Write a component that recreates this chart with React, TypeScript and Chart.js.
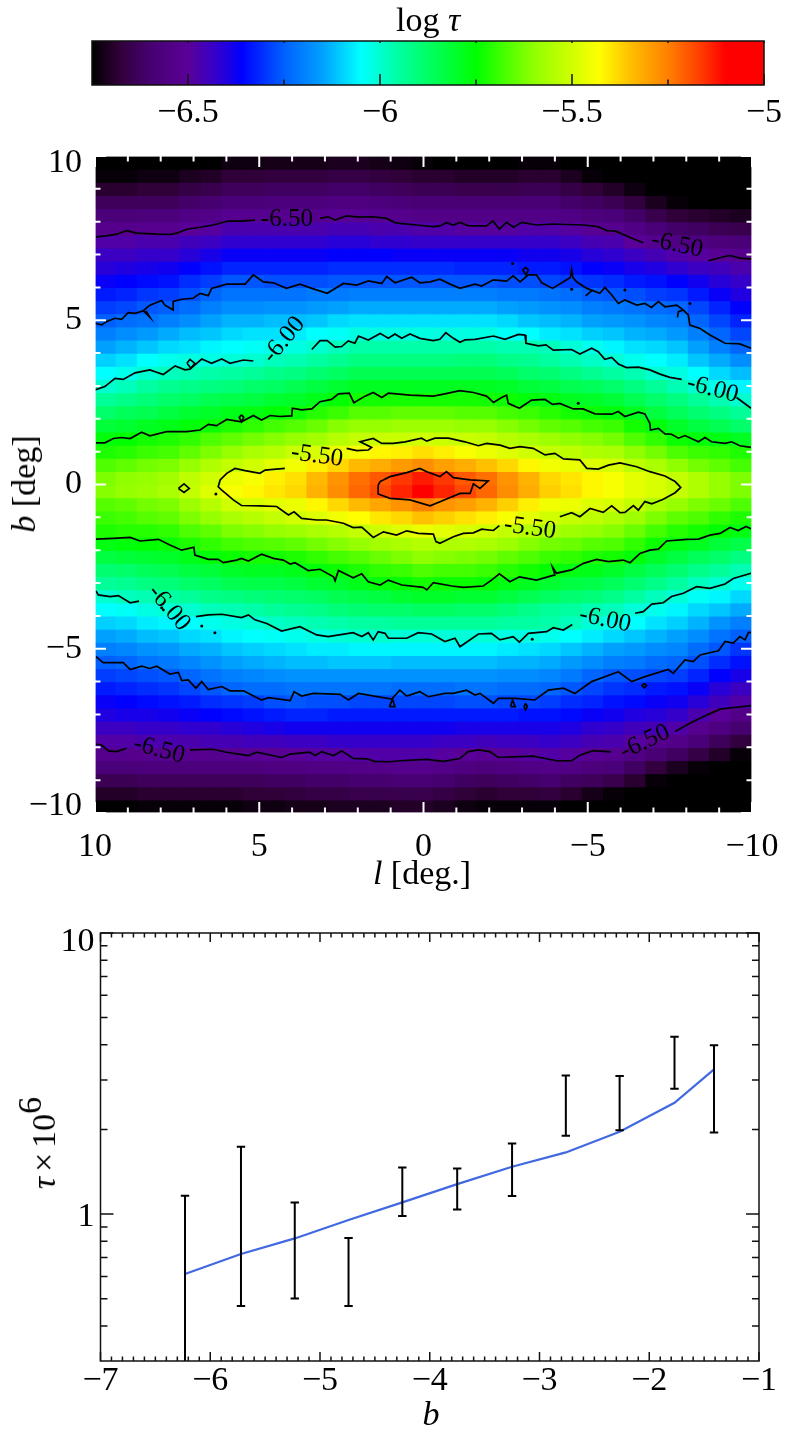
import React, { useEffect, useRef } from "react";
import { Chart, registerables } from "chart.js";

Chart.register(...registerables);

const FONT = '"Liberation Serif"';

// colour table (log tau -> colour)
const paletteValues = [-6.75, -6.68, -6.6, -6.5, -6.42, -6.36, -6.25, -6.15, -6.05, -5.95, -5.75, -5.6, -5.5, -5.43, -5.35, -5.25, -5.17, -5.1, -5];
const paletteColors = [
  [0, 0, 0], [48, 0, 56], [70, 0, 112], [90, 0, 152], [48, 0, 208], [0, 0, 255], [0, 96, 255], [0, 160, 255], [0, 255, 255],
  [0, 255, 160], [0, 255, 0], [144, 255, 0], [208, 255, 0], [255, 255, 0], [255, 192, 0], [255, 128, 0], [255, 64, 0], [255, 0, 0], [255, 0, 0],
];

// colour bar
const barRange = [-6.75, -5];
const barMajor = [-6.5, -6, -5.5, -5];
const barMinor = [-6.25, -5.75, -5.25];

// map axes
const lColumns = [9.68, 9.03, 8.39, 7.74, 7.1, 6.45, 5.81, 5.16, 4.52, 3.87, 3.23, 2.58, 1.94, 1.29, 0.65, 0, -0.65, -1.29, -1.94, -2.58, -3.23, -3.87, -4.52, -5.16, -5.81, -6.45, -7.1, -7.74, -8.39, -9.03, -9.68];
const bRows = [9.8, 9.4, 9, 8.6, 8.2, 7.8, 7.4, 7, 6.6, 6.2, 5.8, 5.4, 5, 4.6, 4.2, 3.8, 3.4, 3, 2.6, 2.2, 1.8, 1.4, 1, 0.6, 0.2, -0.2, -0.6, -1, -1.4, -1.8, -2.2, -2.6, -3, -3.4, -3.8, -4.2, -4.6, -5, -5.4, -5.8, -6.2, -6.6, -7, -7.4, -7.8, -8.2, -8.6, -9, -9.4, -9.8];
const mapMajor = [10, 5, 0, -5, -10];
const mapMinor = [9, 8, 7, 6, 4, 3, 2, 1, -1, -2, -3, -4, -6, -7, -8, -9];

// -log10(tau) x 100 per cell, one row per b value, one column per l value
const tauGrid = [
  [679,679,678,678,676,675,673,673,672,672,672,671,671,672,673,674,675,675,675,675,674,674,676,678,680,680,680,680,680,680,680],
  [674,674,673,673,671,670,668,668,667,667,667,666,666,667,668,669,669,670,670,670,669,669,671,674,676,677,679,680,680,680,680],
  [669,669,668,668,666,665,663,663,662,662,662,661,661,662,663,664,664,665,665,665,664,664,666,668,670,673,677,680,680,680,680],
  [663,663,663,663,661,660,658,658,657,657,657,656,656,657,658,659,659,659,659,659,659,659,661,662,664,667,671,674,675,677,678],
  [658,658,657,657,655,654,652,652,652,652,652,651,651,652,653,654,654,654,654,654,654,654,655,657,658,661,665,668,669,670,671],
  [653,653,652,652,650,649,647,647,647,647,647,646,646,647,647,648,648,649,649,649,648,648,649,651,652,655,658,661,662,664,665],
  [648,648,647,647,645,644,642,642,642,642,642,641,641,642,642,643,643,643,643,643,643,643,644,646,647,650,652,655,656,657,658],
  [644,644,643,643,641,639,637,637,637,637,637,636,636,636,637,637,637,637,637,637,638,638,639,641,642,644,646,648,649,651,652],
  [641,640,639,638,636,634,632,632,632,632,632,631,631,631,631,631,631,632,632,632,633,633,634,636,637,639,640,642,644,645,647],
  [637,636,635,634,631,629,626,626,627,627,627,626,626,626,626,626,626,626,626,627,627,628,629,630,631,633,634,636,638,641,643],
  [633,632,630,629,627,624,622,622,622,622,621,621,620,620,620,620,620,620,620,621,621,622,623,625,626,627,629,630,633,637,640],
  [629,628,626,625,623,620,618,618,617,617,616,615,614,614,614,614,614,614,614,615,616,617,618,620,621,622,623,624,628,632,636],
  [625,623,622,620,618,615,613,613,612,612,611,609,608,608,608,608,608,608,608,609,611,612,613,615,616,617,619,620,624,628,632],
  [620,618,616,614,612,611,609,608,608,607,605,604,602,602,602,602,602,602,602,604,605,607,608,610,611,613,614,616,620,624,628],
  [615,613,611,609,608,606,605,604,603,602,600,598,596,596,596,596,596,596,596,597,597,598,601,603,606,608,609,611,615,620,624],
  [610,608,605,603,602,602,601,600,598,597,595,593,591,591,591,591,591,590,590,592,593,595,597,599,601,603,605,607,611,614,618],
  [605,603,600,598,597,596,595,594,592,591,589,587,585,585,585,585,585,585,585,586,588,589,591,593,595,597,600,602,605,609,612],
  [600,598,595,593,592,591,590,588,587,585,583,581,579,579,579,579,579,579,579,580,582,583,585,586,588,591,594,597,600,603,606],
  [594,592,590,588,587,585,584,583,581,580,578,575,573,573,573,573,573,573,573,574,576,577,579,580,582,585,588,591,594,597,600],
  [588,586,585,583,581,580,578,577,575,574,571,569,566,566,565,565,565,566,566,568,569,571,573,574,576,579,583,586,589,591,594],
  [582,581,579,578,576,574,572,570,568,566,564,561,559,559,558,558,558,559,559,561,563,565,566,568,569,573,576,580,583,585,588],
  [576,575,573,572,570,567,565,563,561,559,557,554,552,551,551,550,551,551,552,554,556,558,560,561,563,567,570,574,576,577,579],
  [572,571,569,568,565,562,559,556,554,551,549,546,544,542,541,539,541,544,546,548,550,552,553,555,556,560,563,567,569,570,572],
  [567,565,563,562,559,555,552,550,547,545,541,538,534,532,529,527,530,532,535,538,542,545,546,548,549,553,556,560,563,565,568],
  [562,560,559,557,553,550,546,544,541,539,534,528,523,520,516,513,516,520,523,528,533,538,540,542,544,547,549,552,555,559,562],
  [561,559,558,556,552,548,544,542,540,538,533,527,522,518,514,510,514,518,522,527,532,537,539,542,544,547,549,552,555,559,562],
  [566,565,563,562,558,554,550,549,547,546,542,538,534,531,528,525,528,530,533,537,541,545,546,548,549,552,556,559,562,564,567],
  [569,568,566,565,562,559,556,554,552,550,548,545,543,540,538,535,537,539,541,544,547,550,552,553,555,558,562,565,567,570,572],
  [572,571,571,570,567,565,562,561,559,558,556,554,552,550,548,546,547,549,550,552,554,556,558,559,561,564,568,571,573,575,577],
  [577,576,575,574,572,570,568,567,566,565,563,561,559,557,556,554,555,555,556,558,561,563,564,566,567,570,574,577,579,582,584],
  [583,582,581,580,578,576,574,573,573,572,570,568,566,564,562,560,561,562,563,565,567,569,570,572,573,576,580,583,586,588,591],
  [589,588,586,585,583,582,580,579,579,578,576,574,572,570,569,567,568,568,569,571,573,575,577,578,580,583,586,589,592,594,597],
  [594,593,591,590,588,587,585,584,584,583,581,580,578,576,575,573,574,574,575,577,579,581,583,584,586,589,592,595,598,600,603],
  [600,598,597,595,594,592,591,590,589,588,587,585,584,583,581,580,580,581,581,583,585,587,589,590,592,595,598,601,604,606,609],
  [605,604,602,601,600,598,597,596,594,593,592,590,589,588,588,587,587,588,588,590,592,594,595,597,598,601,603,606,609,611,614],
  [610,609,607,606,605,603,602,601,599,598,597,596,595,595,594,594,594,594,594,595,595,596,598,601,603,605,608,610,613,617,620],
  [615,614,612,611,609,608,606,605,604,603,602,601,600,600,601,601,601,601,601,602,602,603,605,607,609,611,613,615,618,622,625],
  [620,619,617,616,614,613,611,610,609,608,607,607,606,606,606,606,606,606,606,607,608,609,611,613,615,616,618,619,623,626,630],
  [625,624,622,621,619,617,615,614,613,612,612,611,611,611,612,612,612,612,612,613,613,614,616,618,620,621,623,624,627,631,634],
  [629,628,627,626,624,622,620,619,618,617,617,617,617,617,617,617,617,617,617,618,618,619,621,624,626,627,628,629,632,636,639],
  [633,632,631,630,628,626,624,623,623,622,622,622,622,622,623,623,623,622,622,623,623,624,626,628,630,631,633,634,637,641,644],
  [637,636,635,634,633,631,630,629,627,626,627,627,628,628,628,628,628,627,627,628,628,629,631,632,634,635,637,638,641,645,648],
  [640,639,639,638,637,636,635,634,633,632,632,633,633,633,633,633,633,633,633,633,634,634,635,637,638,640,641,643,647,650,654],
  [644,644,643,643,642,642,641,640,639,638,638,638,638,638,638,638,638,639,639,639,639,639,640,642,643,645,646,648,652,656,660],
  [648,648,647,647,647,646,646,645,645,644,644,643,643,643,643,643,644,644,645,644,644,643,644,646,647,649,652,654,658,663,667],
  [653,653,652,652,652,652,652,651,651,650,649,649,648,648,648,648,649,650,651,650,649,648,649,651,652,655,659,662,666,670,674],
  [658,658,657,657,657,657,657,657,656,656,655,655,654,654,653,653,654,656,657,656,655,654,655,657,658,662,667,671,674,677,680],
  [664,664,663,663,663,663,663,663,662,662,661,661,660,660,659,659,660,662,663,662,661,660,662,663,665,669,674,678,679,679,680],
  [670,670,669,669,669,669,669,668,668,667,666,666,665,665,665,665,666,668,669,668,668,667,669,672,674,676,678,680,680,680,680],
  [675,675,674,674,674,674,674,673,673,672,672,671,671,671,670,670,671,673,674,674,674,674,676,678,680,680,680,680,680,680,680],
];

// contour paths in (l, b) degrees
const upper650a = [[9.97,7.54],[9.64,7.57],[9.34,7.62],[9.04,7.73],[8.73,7.65],[8.12,7.62],[7.72,7.61],[7.51,7.65],[7.21,7.77],[6.8,7.83],[6.4,7.9],[5.94,8.02],[5.59,8.02],[5.13,8.05]];
const upper650b = [[3.15,8.1],[2.9,8.15],[2.69,8.05],[2.34,8.18],[1.93,8.14],[1.53,8.15],[1.12,8.1],[0.87,7.97],[0.72,7.95],[0.21,7.9],[-0.3,7.85],[-0.5,7.87],[-0.7,7.97],[-0.91,7.9],[-1.11,7.98],[-1.36,7.88],[-1.72,7.87],[-1.92,7.87],[-2.11,8.02],[-2.31,7.78],[-2.53,7.98],[-2.74,7.83],[-2.99,7.98],[-3.45,7.9],[-3.95,7.93],[-4.87,7.9],[-5.32,7.85],[-5.58,7.73],[-5.83,7.72],[-6.29,7.52],[-6.69,7.36]];
const upper650c = [[-8.67,6.81],[-9.18,6.94],[-9.33,6.97],[-9.64,6.89],[-9.99,6.86]];
const upper625 = [[10,4.91],[9.8,4.86],[9.64,4.96],[9.39,5.06],[9.19,5.03],[8.99,5.23],[8.78,5.21],[8.53,5.29],[8.33,5.46],[7.97,5.6],[7.87,5.46],[7.62,5.31],[7.62,5.57],[7.36,5.64],[7.01,5.67],[6.8,5.82],[6.55,5.75],[6.45,5.97],[5.99,6.1],[5.43,6.1],[5.18,6.38],[4.88,6.17],[4.57,6.14],[4.17,5.97],[3.76,6.1],[3.4,5.97],[2.93,5.82],[2.44,6.12],[2.03,6.07],[1.68,6.2],[1.27,6.12],[1.12,6.33],[0.87,6.14],[0.36,6.31],[0.11,6.14],[-0.2,6.17],[-0.5,6.25],[-0.81,6.1],[-1.11,5.97],[-1.57,6.1],[-1.77,6.04],[-2.13,6.23],[-2.53,6.19],[-2.73,6.35],[-2.94,6.17],[-3.19,6.38],[-3.44,6.38],[-3.6,6.14],[-3.93,5.97],[-4.26,6.17],[-4.47,6.3],[-4.51,6.55],[-4.55,6.3],[-4.66,6.17],[-4.97,5.97],[-5.37,5.82],[-5.52,6],[-5.73,5.77],[-5.93,5.51],[-6.13,5.62],[-6.49,5.46],[-6.74,5.51],[-6.94,5.39],[-7.15,5.57],[-7.35,5.41],[-7.71,5.46],[-7.91,5.31],[-8.06,5.16],[-8.11,4.85],[-8.42,4.75],[-8.72,4.55],[-9.18,4.3],[-9.63,4.28],[-9.97,4.15]];
const upper600a = [[10,2.88],[9.7,2.98],[9.39,3.23],[9.14,3.2],[8.78,3.4],[8.33,3.49],[7.92,3.35],[7.56,3.61],[7.26,3.49],[7.11,3.51],[6.75,3.82],[6.45,3.69],[6.14,3.82],[5.89,3.69],[5.48,3.79],[5.18,3.76]];
const upper600b = [[3.4,4.11],[3.15,4.38],[2.93,4.38],[2.69,4.18],[2.49,4.2],[2.29,4.37],[2.09,4.3],[1.98,4.52],[1.68,4.4],[1.32,4.6],[1.07,4.45],[0.87,4.58],[0.66,4.45],[0.41,4.58],[0.11,4.45],[-0.3,4.38],[-0.5,4.42],[-0.68,4.62],[-0.91,4.45],[-1.11,4.33],[-1.26,4.4],[-1.57,4.42],[-2.13,4.52],[-2.48,4.42],[-2.89,4.57],[-3.09,4.55],[-3.12,4.3],[-3.5,4.22],[-3.73,4.25],[-3.95,4.09],[-4.51,4.11],[-4.76,3.97],[-5.12,4.15],[-5.32,4.04],[-5.52,3.81],[-5.73,3.87],[-5.93,3.67],[-6.18,3.56],[-6.54,3.57],[-6.89,3.49],[-7.2,3.36],[-7.5,3.26],[-7.86,3.2]];
const upper600c = [[-9.53,2.65],[-9.97,2.32]];
const upper575 = [[9.97,1.27],[9.7,1.27],[9.44,1.4],[9.19,1.43],[8.93,1.4],[8.58,1.59],[8.33,1.48],[7.82,1.61],[7.21,1.61],[6.8,1.66],[6.55,1.83],[6.3,1.79],[5.99,1.98],[5.54,1.91],[5.18,2.1],[4.93,1.96],[4.67,2.1],[4.37,2.07],[4.01,2.09],[3.99,2.32],[3.71,2.27],[3.4,2.3],[3.15,2.52],[2.8,2.59],[2.59,2.76],[2.26,2.78],[2.12,2.49],[1.78,2.69],[1.53,2.8],[1.27,2.65],[1.07,2.78],[0.41,2.72],[-0.3,2.69],[-0.65,2.76],[-1.11,2.86],[-1.52,2.8],[-1.92,2.69],[-2.13,2.5],[-2.38,2.65],[-2.53,2.72],[-2.58,2.47],[-2.92,2.32],[-3.29,2.57],[-3.7,2.59],[-3.93,2.44],[-4.15,2.47],[-4.56,2.3],[-4.86,2.3],[-5.22,2.15],[-5.73,2.14],[-5.93,2.22],[-6.13,2.07],[-6.54,2.2],[-6.74,2.15],[-6.89,1.86],[-6.91,1.66],[-7.15,1.71],[-7.35,1.54],[-7.55,1.53],[-7.76,1.41],[-7.96,1.49],[-8.37,1.3],[-8.57,1.43],[-8.77,1.3],[-9.18,1.25],[-9.38,1.3],[-9.63,1.18],[-9.97,1.13]];
const ring550a = [[4.22,0.49],[4.57,0.46],[4.82,0.44],[4.98,0.34],[5.43,0.42],[5.74,0.49],[5.99,0.34],[6.19,0.14],[6.25,-0.07],[6.14,-0.17],[5.79,-0.47],[5.54,-0.64],[4.98,-0.65],[4.47,-0.67],[4.11,-0.93],[3.94,-0.83],[3.71,-1.03],[3.25,-1.08],[2.95,-1.08],[2.44,-1.18],[2.14,-1.31],[1.88,-1.3],[1.53,-1.61],[1.22,-1.44],[0.82,-1.54],[0.51,-1.41],[0.16,-1.49],[-0.3,-1.51],[-0.38,-1.74],[-0.5,-1.79],[-0.91,-1.59],[-1.21,-1.49],[-1.52,-1.47],[-1.77,-1.36],[-2.13,-1.4],[-2.31,-1.25]];
const ring550b = [[-4.15,-0.98],[-4.51,-0.86],[-4.76,-0.98],[-5.07,-0.73],[-5.47,-0.85],[-5.73,-0.65],[-5.98,-0.86],[-6.13,-0.85],[-6.39,-0.64],[-6.54,-0.78],[-6.74,-0.52],[-6.95,-0.59],[-7.3,-0.45],[-7.66,-0.25],[-7.83,-0.09],[-7.66,0.09],[-7.35,0.26],[-6.89,0.39],[-6.49,0.54],[-5.98,0.66],[-5.63,0.59],[-5.32,0.47],[-4.97,0.49],[-4.76,0.75],[-4.26,0.78],[-4,0.95],[-3.7,0.9],[-3.34,1.1],[-2.94,1.15],[-2.63,1.1],[-2.33,1.2],[-1.92,1.25],[-1.67,1.18],[-1.26,1.3],[-0.76,1.41],[-0.35,1.41],[-0.1,1.32],[0.06,1.41],[0.56,1.3],[0.92,1.25],[1.27,1.25],[1.53,1.4],[1.93,1.3],[1.58,1.13],[1.68,1.05],[2.03,1.03],[2.34,1.1]];
const ring525 = [[1.38,-0.02],[1.32,0.09],[1.02,0.24],[0.51,0.36],[0.11,0.49],[-0.1,0.39],[-0.5,0.24],[-0.7,0.39],[-0.91,0.21],[-1.42,0.14],[-1.97,0.11],[-1.72,-0.12],[-1.52,0.02],[-1.42,-0.27],[-1.11,-0.27],[-0.76,-0.42],[-0.2,-0.65],[0.41,-0.47],[1.02,-0.42],[1.38,-0.29],[1.38,-0.02]];
const lower575 = [[9.97,-1.66],[9.44,-1.64],[8.93,-1.61],[8.63,-1.72],[8.07,-1.67],[7.72,-1.84],[7.36,-2],[6.99,-1.91],[6.96,-2.15],[6.55,-2.28],[6.25,-2.28],[6.09,-2.38],[5.69,-2.3],[5.54,-2.25],[5.33,-2.33],[4.93,-2.12],[4.57,-2.25],[4.27,-2.3],[4.06,-2.42],[3.91,-2.38],[3.51,-2.62],[3.15,-2.58],[2.74,-2.81],[2.69,-2.93],[2.59,-2.62],[2.14,-2.84],[1.88,-2.72],[1.68,-2.96],[1.32,-3.06],[1.07,-2.91],[0.66,-3.06],[0.01,-3.13],[-0.1,-3.21],[-0.3,-2.99],[-0.86,-3.09],[-1.21,-3.13],[-1.82,-3.09],[-2.07,-2.91],[-2.31,-2.72],[-2.63,-2.96],[-2.92,-2.81],[-3.44,-2.91],[-4,-2.75],[-3.93,-2.52],[-4.05,-2.7],[-4.51,-2.6],[-4.87,-2.4],[-5.27,-2.28],[-5.63,-2.35],[-6.08,-2.3],[-6.29,-2.38],[-6.59,-2.1],[-6.89,-2],[-7.15,-1.97],[-7.4,-1.72],[-8.01,-1.67],[-8.37,-1.66],[-8.72,-1.54],[-9.03,-1.49],[-9.33,-1.31],[-9.58,-1.4],[-9.82,-1.28],[-9.97,-1.35]];
const lower600a = [[9.97,-3.24],[9.9,-3.36],[9.54,-3.41],[9.29,-3.38],[8.93,-3.6],[8.66,-3.55]];
const lower600b = [[6.93,-4.02],[6.55,-3.97],[6.14,-3.95],[5.54,-4.05],[5.33,-3.97],[5.13,-4.12],[4.77,-4.23],[4.32,-4.46],[3.76,-4.33],[3.25,-4.58],[2.9,-4.63],[2.14,-4.51],[1.88,-4.63],[1.68,-4.51],[1.53,-4.73],[1.38,-4.48],[1.17,-4.53],[1.07,-4.68],[0.51,-4.68],[0.16,-4.51],[-0.25,-4.55],[-0.65,-4.78],[-0.96,-4.68],[-1.11,-4.94],[-1.67,-4.55],[-2.07,-4.53],[-2.33,-4.73],[-2.73,-4.63],[-2.92,-4.8],[-3.19,-4.53],[-3.75,-4.48],[-3.95,-4.36],[-4.26,-4.43],[-4.53,-4.26]];
const lower600c = [[-6.44,-3.92],[-6.69,-3.87],[-6.95,-3.64],[-7.3,-3.6],[-7.55,-3.41],[-7.91,-3.31],[-8.31,-3.11],[-8.72,-3.16],[-9.18,-3.03],[-9.43,-2.86],[-9.97,-2.7]];
const lower625 = [[9.97,-5.24],[9.75,-5.42],[9.14,-5.42],[8.93,-5.63],[8.58,-5.53],[8.33,-5.6],[8.12,-5.53],[7.72,-5.77],[7.46,-5.72],[7.36,-5.97],[7.16,-5.95],[6.93,-6.2],[6.75,-6],[6.55,-6.24],[6.14,-6.15],[5.89,-6.28],[5.48,-6.28],[4.93,-6.56],[4.72,-6.49],[4.06,-6.58],[3.94,-6.31],[3.71,-6.44],[3.35,-6.36],[2.54,-6.39],[2.29,-6.56],[1.98,-6.36],[0.97,-6.53],[0.72,-6.26],[0.51,-6.44],[0.11,-6.31],[-0.15,-6.46],[-0.65,-6.36],[-0.91,-6.36],[-1.31,-6.26],[-1.57,-6.41],[-1.72,-6.36],[-2.13,-6.66],[-2.28,-6.51],[-2.79,-6.51],[-3.39,-6.56],[-3.8,-6.26],[-4.26,-6.2],[-4.61,-6.36],[-5.12,-6],[-5.52,-5.85],[-5.93,-5.7],[-6.34,-6],[-6.74,-5.85],[-7.45,-5.63],[-7.6,-5.75],[-7.96,-5.34],[-8.21,-5.39],[-8.42,-5.19],[-8.98,-5.06],[-9.18,-4.78],[-9.43,-4.83],[-9.63,-4.63],[-9.79,-4.73],[-9.89,-4.51],[-9.97,-4.5]];
const lower650a = [[9.97,-7.9],[9.8,-7.93],[9.59,-8.11],[9.34,-8.13],[9.04,-8.03]];
const lower650b = [[7.11,-8.08],[6.4,-8.06],[6,-8.15],[5.33,-8.25],[5.08,-8.15],[4.32,-8.31],[4.06,-8.21],[3.46,-8.15],[3.3,-8.25],[3.1,-8.13],[2.74,-8.25],[2.49,-8.11],[2.14,-8.34],[1.73,-8.35],[1.48,-8.43],[1.02,-8.44],[0.72,-8.41],[-0.1,-8.37],[-0.6,-8.43],[-1.11,-8.34],[-1.36,-8.13],[-1.67,-8.08],[-2.02,-8.13],[-2.28,-8.31],[-2.73,-8.29],[-3.34,-8.27],[-4.05,-8.41],[-4.51,-8.41],[-4.76,-8.24],[-5.17,-8.1],[-5.7,-8.14]];
const lower650c = [[-7.66,-7.52],[-8.11,-7.27],[-8.62,-7.02],[-9.03,-6.84],[-9.53,-6.78],[-9.97,-6.73]];
// small closed contours and hooks
const islands = [
  [[8.53,5.29],[8.33,5.09],[8.45,5.28]],
  [[7.2,3.69],[7.11,3.81],[6.96,3.69],[7.08,3.54],[7.2,3.69]],
  [[5.54,2.12],[5.47,2.04],[5.54,1.91],[5.61,2.04],[5.54,2.12]],
  [[7.46,-0.12],[7.29,0.02],[7.13,-0.12],[7.29,-0.24],[7.46,-0.12]],
  [[-3.02,6.53],[-3.11,6.61],[-3.19,6.53],[-3.12,6.38],[-3.02,6.53]],
  [[-4.94,5.74],[-5.12,5.9]],
  [[-7.73,5.09],[-7.76,5.26],[-7.91,5.31]],
  [[1.04,-6.76],[0.87,-6.76],[0.94,-6.54],[1.04,-6.76]],
  [[-2.65,-6.76],[-2.79,-6.76],[-2.71,-6.56],[-2.65,-6.76]],
  [[-3.11,-6.66],[-3.16,-6.76],[-3.11,-6.86],[-3.06,-6.76],[-3.11,-6.66]],
  [[-6.72,-6.05],[-6.79,-6.12],[-6.72,-6.19],[-6.65,-6.12],[-6.72,-6.05]],
];
const contourDots = [[-6.13,5.92],[-8.11,5.51],[-2.71,6.73],[-4.51,5.94],[-3.31,-4.71],[6.75,-4.31],[6.35,-4.51],[7.97,-3.75],[6.32,-0.29],[-4.71,2.47]];
const contourPaths = [upper650a, upper650b, upper650c, upper625, upper600a, upper600b, upper600c, upper575, ring550a, ring550b, ring525, lower575, lower600a, lower600b, lower600c, lower625, lower650a, lower650b, lower650c, ...islands];

const contourTexts = ["-6.50", "-6.50", "-6.00", "-6.00", "-5.50", "-5.50", "-6.00", "-6.00", "-6.50", "-6.50"];
const contourTextL = [4.16, -7.72, 4.25, -8.8, 3.24, -3.24, 7.75, -5.53, 8.05, -6.74];
const contourTextB = [8.08, 7.29, 4.4, 2.9, 0.87, -1.33, -3.76, -4.12, -8.08, -7.84];
const contourTextAngle = [0, 12, -50, 15, 8, 8, 50, 12, 15, -25];

// lower panel
const profileB = [-6.23, -5.72, -5.23, -4.74, -4.25, -3.75, -3.25, -2.76, -2.27, -1.77, -1.41];
const profileHigh = [1.162, 1.735, 1.1, 0.822, 1.465, 1.453, 1.783, 3.11, 3.1, 4.27, 3.99];
const profileLow = [0.25, 0.471, 0.501, 0.471, 0.984, 1.039, 1.159, 1.898, 1.988, 2.79, 1.95];
const modelTau = [0.612, 0.721, 0.819, 0.952, 1.1, 1.278, 1.473, 1.657, 1.962, 2.488, 3.27];
const lineXMajor = [-7, -6, -5, -4, -3, -2, -1];
const lineXMinor = [-6.9,-6.8,-6.7,-6.6,-6.5,-6.4,-6.3,-6.2,-6.1,-5.9,-5.8,-5.7,-5.6,-5.5,-5.4,-5.3,-5.2,-5.1,-4.9,-4.8,-4.7,-4.6,-4.5,-4.4,-4.3,-4.2,-4.1,-3.9,-3.8,-3.7,-3.6,-3.5,-3.4,-3.3,-3.2,-3.1,-2.9,-2.8,-2.7,-2.6,-2.5,-2.4,-2.3,-2.2,-2.1,-1.9,-1.8,-1.7,-1.6,-1.5,-1.4,-1.3,-1.2,-1.1];
const lineYMajor = [10, 1];
const lineYMinor = [9, 8, 7, 6, 5, 4, 3, 2, 0.9, 0.8, 0.7, 0.6, 0.5, 0.4];

const colorFor = (v: number) => {
  let i = 0;
  while (i < paletteValues.length - 2 && v > paletteValues[i + 1]) i++;
  const t = Math.min(1, Math.max(0, (v - paletteValues[i]) / (paletteValues[i + 1] - paletteValues[i])));
  const a = paletteColors[i];
  const b = paletteColors[i + 1];
  return `rgb(${a.map((c, k) => Math.round(c + (b[k] - c) * t)).join(",")})`;
};

const minus = (v: any) => String(v).replace("-", "\u2212");

type TickSet = { scale: string; values: number[]; len: number; edge: "top" | "bottom" | "left" | "right" };

const frameAndTicks = (color: string, lw: number, frameW: number, sets: TickSet[]) => ({
  id: "frameAndTicks",
  afterDatasetsDraw(chart: any) {
    const { ctx, chartArea: a, scales } = chart;
    ctx.save();
    ctx.strokeStyle = color;
    ctx.lineWidth = lw;
    ctx.beginPath();
    for (const s of sets) {
      for (const v of s.values) {
        const p = scales[s.scale].getPixelForValue(v);
        if (s.edge === "top") { ctx.moveTo(p, a.top); ctx.lineTo(p, a.top + s.len); }
        if (s.edge === "bottom") { ctx.moveTo(p, a.bottom); ctx.lineTo(p, a.bottom - s.len); }
        if (s.edge === "left") { ctx.moveTo(a.left, p); ctx.lineTo(a.left + s.len, p); }
        if (s.edge === "right") { ctx.moveTo(a.right, p); ctx.lineTo(a.right - s.len, p); }
      }
    }
    ctx.stroke();
    ctx.lineWidth = frameW;
    ctx.strokeRect(a.left, a.top, a.right - a.left, a.bottom - a.top);
    ctx.restore();
  },
});

const contourLabels = {
  id: "contourLabels",
  afterDatasetsDraw(chart: any) {
    const { ctx, scales } = chart;
    ctx.save();
    ctx.fillStyle = "#000";
    ctx.font = `25px ${FONT}`;
    ctx.textAlign = "center";
    ctx.textBaseline = "middle";
    contourTexts.forEach((t, i) => {
      ctx.save();
      ctx.translate(scales.x.getPixelForValue(contourTextL[i]), scales.y.getPixelForValue(contourTextB[i]));
      ctx.rotate((contourTextAngle[i] * Math.PI) / 180);
      ctx.fillText(t, 0, 0);
      ctx.restore();
    });
    ctx.restore();
  },
};

const TICK_SIZE = 34;
const tickFont = { family: FONT, size: TICK_SIZE, lineHeight: 1 };

function makeBar(canvas: HTMLCanvasElement) {
  return new Chart(canvas, {
    type: "bar",
    data: {
      labels: ["log tau"],
      datasets: [{
        data: [barRange as any],
        barPercentage: 1,
        categoryPercentage: 1,
        backgroundColor: (c: any) => {
          const a = c.chart.chartArea;
          if (!a) return "#000";
          const g = c.chart.ctx.createLinearGradient(a.left, 0, a.right, 0);
          paletteValues.forEach((v) => {
            g.addColorStop((v - barRange[0]) / (barRange[1] - barRange[0]), colorFor(v));
          });
          return g;
        },
      }],
    },
    options: {
      indexAxis: "y",
      responsive: false,
      animation: false,
      events: [],
      layout: { padding: { left: 92, right: 26, top: 41, bottom: 0 } },
      plugins: { legend: { display: false }, tooltip: { enabled: false } },
      scales: {
        y: { display: false },
        x: {
          type: "linear",
          min: barRange[0],
          max: barRange[1],
          grid: { display: false },
          border: { display: false },
          afterFit: (s: any) => { s.height = 55; },
          afterBuildTicks: (s: any) => { s.ticks = barMajor.map((value) => ({ value })); },
          ticks: {
            autoSkip: false, maxRotation: 0, minRotation: 0, padding: 3, color: "#000", font: tickFont,
            callback: (v: any) => minus(v),
          },
        },
      },
    } as any,
    plugins: [frameAndTicks("#111", 1.5, 1.5, [
      { scale: "x", values: barMajor, len: 11, edge: "bottom" },
      { scale: "x", values: barMinor, len: 5.5, edge: "bottom" },
      { scale: "x", values: barMajor.concat(barMinor), len: 2, edge: "top" },
    ])],
  });
}

function makeMap(canvas: HTMLCanvasElement) {
  const cells = tauGrid.map((row, r) => ({
    type: "bar",
    xAxisID: "xc",
    yAxisID: "y",
    order: 2,
    grouped: false,
    barPercentage: 1,
    categoryPercentage: 1,
    inflateAmount: 0.6,
    data: row.map(() => [bRows[r] - 0.2, bRows[r] + 0.2]),
    backgroundColor: row.map((c) => colorFor(-c / 100)),
  }));
  const lines = contourPaths.map((path) => ({
    type: "line",
    xAxisID: "x",
    yAxisID: "y",
    order: 1,
    data: path.map(([x, y]) => ({ x, y })),
    borderColor: "#000",
    borderWidth: 1.7,
    pointRadius: 0,
    tension: 0,
    fill: false,
  }));
  const dots = {
    type: "scatter",
    xAxisID: "x",
    yAxisID: "y",
    order: 1,
    data: contourDots.map(([x, y]) => ({ x, y })),
    backgroundColor: "#000",
    pointRadius: 1.5,
    pointBorderWidth: 0,
  };
  return new Chart(canvas, {
    type: "bar",
    data: { labels: lColumns as any, datasets: [...cells, ...lines, dots] as any },
    options: {
      responsive: false,
      animation: false,
      events: [],
      layout: { padding: { left: 0, right: 38, top: 36, bottom: 0 } },
      plugins: { legend: { display: false }, tooltip: { enabled: false } },
      scales: {
        xc: { type: "category", position: "bottom", display: false, offset: true, grid: { display: false } },
        x: {
          type: "linear",
          position: "bottom",
          reverse: true,
          offset: false,
          min: -10,
          max: 10,
          grid: { display: false },
          border: { display: false },
          afterFit: (s: any) => { s.height = 77; },
          afterBuildTicks: (s: any) => { s.ticks = mapMajor.map((value) => ({ value })); },
          ticks: {
            autoSkip: false, maxRotation: 0, minRotation: 0, padding: 9, color: "#000", font: tickFont,
            callback: (v: any) => minus(v),
          },
        },
        y: {
          type: "linear",
          min: -10,
          max: 10,
          grid: { display: false },
          border: { display: false },
          afterFit: (s: any) => { s.width = 95; },
          afterBuildTicks: (s: any) => { s.ticks = mapMajor.map((value) => ({ value })); },
          ticks: {
            autoSkip: false, padding: 5, color: "#000",
            font: (c: any) => ({ family: FONT, size: TICK_SIZE, lineHeight: Math.abs(c.tick?.value) === 10 ? 0.42 : 1 }),
            callback: (v: any) => (v === 10 ? ["", "10"] : v === -10 ? [minus(v), ""] : minus(v)),
          },
        },
      },
    } as any,
    plugins: [
      frameAndTicks("#fff", 2, 1.2, [
        { scale: "x", values: mapMajor, len: 11, edge: "top" },
        { scale: "x", values: mapMajor, len: 11, edge: "bottom" },
        { scale: "x", values: mapMinor, len: 5.5, edge: "top" },
        { scale: "x", values: mapMinor, len: 5.5, edge: "bottom" },
        { scale: "y", values: mapMajor, len: 11, edge: "left" },
        { scale: "y", values: mapMajor, len: 11, edge: "right" },
        { scale: "y", values: mapMinor, len: 5.5, edge: "left" },
        { scale: "y", values: mapMinor, len: 5.5, edge: "right" },
      ]),
      contourLabels,
    ],
  });
}

function makeProfile(canvas: HTMLCanvasElement) {
  const bars = profileB.map((x, i) => ({
    data: [{ x, y: profileLow[i] }, { x, y: profileHigh[i] }],
    borderColor: "#000",
    borderWidth: 2,
    pointStyle: "line",
    pointRadius: 4.2,
    pointBorderColor: "#000",
    pointBorderWidth: 2,
    tension: 0,
    fill: false,
  }));
  const model = {
    data: profileB.map((x, i) => ({ x, y: modelTau[i] })),
    borderColor: "#4169e1",
    borderWidth: 2.2,
    pointRadius: 0,
    tension: 0,
    fill: false,
  };
  return new Chart(canvas, {
    type: "line",
    data: { datasets: [...bars, model] as any },
    options: {
      responsive: false,
      animation: false,
      events: [],
      layout: { padding: { left: 0, right: 31, top: 33, bottom: 0 } },
      plugins: { legend: { display: false }, tooltip: { enabled: false } },
      scales: {
        x: {
          type: "linear",
          min: -7,
          max: -1,
          grid: { display: false },
          border: { display: false },
          afterFit: (s: any) => { s.height = 76; },
          afterBuildTicks: (s: any) => { s.ticks = lineXMajor.map((value) => ({ value })); },
          ticks: {
            autoSkip: false, maxRotation: 0, minRotation: 0, padding: -5, color: "#000", font: tickFont,
            callback: (v: any) => minus(v),
          },
        },
        y: {
          type: "logarithmic",
          min: 0.3,
          max: 10,
          grid: { display: false },
          border: { display: false },
          afterFit: (s: any) => { s.width = 100.5; },
          afterBuildTicks: (s: any) => { s.ticks = lineYMajor.map((value) => ({ value })); },
          ticks: {
            autoSkip: false, padding: -2, color: "#000",
            font: (c: any) => ({ family: FONT, size: TICK_SIZE, lineHeight: c.tick?.value === 10 ? 0.55 : 0.2 }),
            callback: (v: any) => ["", String(v)],
          },
        },
      },
    } as any,
    plugins: [frameAndTicks("#111", 1.5, 1.5, [
      { scale: "x", values: lineXMajor, len: 9, edge: "top" },
      { scale: "x", values: lineXMajor, len: 9, edge: "bottom" },
      { scale: "x", values: lineXMinor, len: 4.5, edge: "top" },
      { scale: "x", values: lineXMinor, len: 4.5, edge: "bottom" },
      { scale: "y", values: lineYMajor, len: 13, edge: "left" },
      { scale: "y", values: lineYMajor, len: 13, edge: "right" },
      { scale: "y", values: lineYMinor, len: 7, edge: "left" },
      { scale: "y", values: lineYMinor, len: 7, edge: "right" },
    ])],
  });
}

const titleStyle = (cx: number, cy: number, rotate = 0): React.CSSProperties => ({
  position: "absolute",
  left: cx,
  top: cy,
  transform: `translate(-50%, -50%) rotate(${rotate}deg)`,
  fontFamily: FONT,
  fontSize: 34,
  lineHeight: "38px",
  color: "#000",
  whiteSpace: "nowrap",
});

export default function App() {
  const barRef = useRef<HTMLCanvasElement>(null);
  const mapRef = useRef<HTMLCanvasElement>(null);
  const profileRef = useRef<HTMLCanvasElement>(null);

  useEffect(() => {
    const charts = [makeBar(barRef.current!), makeMap(mapRef.current!), makeProfile(profileRef.current!)];
    return () => charts.forEach((c) => c.destroy());
  }, []);

  const cv = (top: number): React.CSSProperties => ({ position: "absolute", left: 0, top, display: "block" });

  return (
    <div style={{ position: "absolute", left: 0, top: 0, width: 790, height: 1437, overflow: "hidden", background: "#fff" }}>
      <canvas ref={barRef} width={790} height={140} style={cv(0)} />
      <canvas ref={mapRef} width={790} height={770} style={cv(120)} />
      <canvas ref={profileRef} width={790} height={537} style={cv(900)} />
      <div style={titleStyle(428, 20)}>log <i>τ</i></div>
      <div style={titleStyle(422, 873)}><i>l</i> [deg.]</div>
      <div style={titleStyle(24, 484, -90)}><i>b</i> [deg]</div>
      <div style={titleStyle(44, 1143, -90)}><i>τ</i><span style={{ margin: "0 5px" }}>×</span>10<span style={{ position: "relative", top: -14 }}>6</span></div>
      <div style={titleStyle(431, 1414)}><i>b</i></div>
    </div>
  );
}
